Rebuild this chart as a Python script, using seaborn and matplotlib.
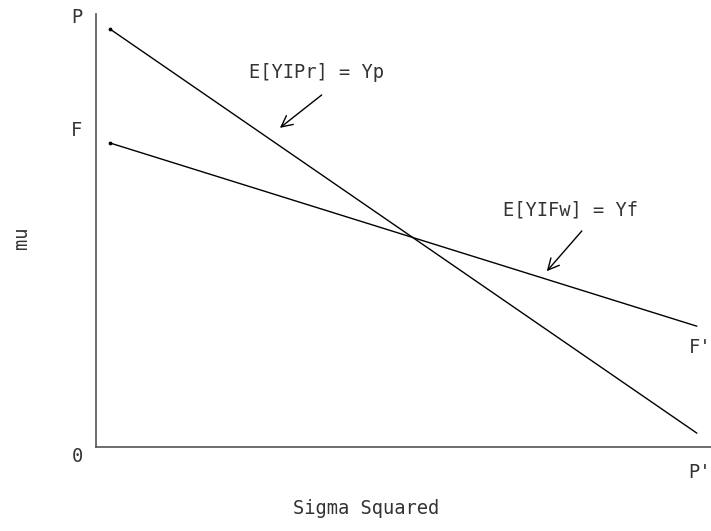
import matplotlib
matplotlib.use("Agg")
import matplotlib.pyplot as plt
import pandas as pd
import seaborn as sns

# line end points (sigma squared, mu)
sigma = [2.3, 97.7]
mu_p = [96.5, 3.2]
mu_f = [70.2, 27.9]

df = pd.DataFrame({
    "sigma": sigma + sigma,
    "mu": mu_p + mu_f,
    "line": ["P", "P", "F", "F"],
})

sns.set_style("white")
plt.rcParams["font.family"] = ["DejaVu Sans Mono", "DejaVu Sans"]

fig = plt.figure(figsize=(7.11, 5.31), dpi=100)
ax = fig.add_axes([96 / 711, (531 - 447) / 531, 615 / 711, 433 / 531])

sns.lineplot(data=df, x="sigma", y="mu", units="line", estimator=None,
             color="black", linewidth=1, ax=ax)
ax.scatter([sigma[0], sigma[0]], [mu_p[0], mu_f[0]], s=3, color="black", zorder=3)

ax.set_xlim(0, 100)
ax.set_ylim(0, 100)
ax.set_xticks([])
ax.set_yticks([])
ax.set_xlabel("")
ax.set_ylabel("")
for s in ["top", "right"]:
    ax.spines[s].set_visible(False)
for s in ["left", "bottom"]:
    ax.spines[s].set_color("#555555")
    ax.spines[s].set_linewidth(1.2)

fs = 13.5
tc = "#333333"
ax.text(-3.1, 99.1, "P", ha="center", va="center", fontsize=fs, color=tc, clip_on=False)
ax.text(-3.1, 73.2, "F", ha="center", va="center", fontsize=fs, color=tc, clip_on=False)
ax.text(-3.1, -2.1, "0", ha="center", va="center", fontsize=fs, color=tc, clip_on=False)
ax.text(98.2, 22.9, "F'", ha="center", va="center", fontsize=fs, color=tc, clip_on=False)
ax.text(98.2, -5.8, "P'", ha="center", va="center", fontsize=fs, color=tc, clip_on=False)

ax.text(35.9, 86.6, "E[YIPr] = Yp", ha="center", va="center", fontsize=fs, color=tc)
ax.text(77.1, 54.7, "E[YIFw] = Yf", ha="center", va="center", fontsize=fs, color=tc)
arrow = dict(arrowstyle="->", color="black", lw=1, shrinkA=0, shrinkB=0,
             mutation_scale=20)
ax.annotate("", xy=(29.9, 73.7), xytext=(36.7, 81.3), arrowprops=arrow)
ax.annotate("", xy=(73.3, 40.6), xytext=(79.0, 49.9), arrowprops=arrow)

fig.text(366 / 711, 1 - 509 / 531, "Sigma Squared", ha="center", va="center",
         fontsize=fs, color=tc)
fig.text(22 / 711, 1 - 238 / 531, "mu", ha="center", va="center",
         fontsize=fs, color=tc, rotation=90)

fig.savefig("out.png", dpi=100)
